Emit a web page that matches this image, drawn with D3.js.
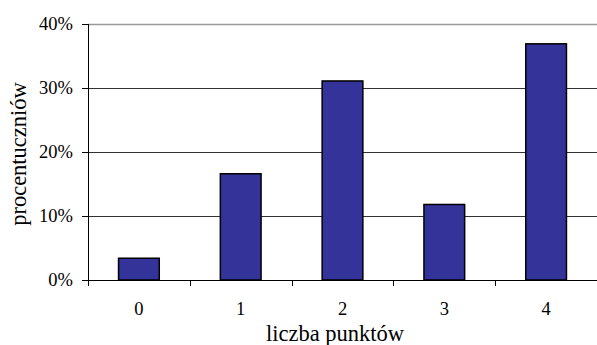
<!DOCTYPE html>
<html>
<head>
<meta charset="utf-8">
<script src="https://cdn.jsdelivr.net/npm/d3@7"></script>
<style>
  body { margin: 0; background: #fff; }
</style>
</head>
<body>
<div id="chart"></div>
<script>
const categories = ["0", "1", "2", "3", "4"];
const values = [0.034, 0.166, 0.311, 0.118, 0.369];
const yTicks = [0, 0.1, 0.2, 0.3, 0.4];

const W = 597, H = 345;
const margin = { top: 24, right: 0, bottom: 65, left: 88 };
const w = W - margin.left - margin.right;
const h = H - margin.top - margin.bottom;
const serif = "'Liberation Serif', 'DejaVu Serif', serif";

const svg = d3.select("#chart").append("svg")
    .attr("width", W)
    .attr("height", H)
    .style("font-family", serif);

const g = svg.append("g")
    .attr("transform", `translate(${margin.left},${margin.top})`);

const x = d3.scaleBand().domain(categories).range([0, w]).paddingInner(0.6).paddingOuter(0.3);
const xTick = d3.scaleBand().domain(categories).range([0, w]);
const y = d3.scaleLinear().domain([0, 0.4]).range([h, 0]);
const pct = d3.format(".0%");

// gridlines
g.selectAll(".grid")
    .data(yTicks.filter(d => d > 0))
    .enter()
    .append("line")
    .attr("x1", 0)
    .attr("x2", w)
    .attr("y1", d => Math.round(y(d)) + 0.5)
    .attr("y2", d => Math.round(y(d)) + 0.5)
    .style("stroke", d => d === 0.4 ? "#999" : "#333")
    .style("stroke-width", d => d === 0.4 ? 1.5 : 1);

// bars
g.selectAll(".bar")
    .data(values)
    .enter()
    .append("rect")
    .attr("x", (d, i) => x(categories[i]))
    .attr("y", d => y(d))
    .attr("width", x.bandwidth())
    .attr("height", d => h - y(d))
    .style("fill", "#333399")
    .style("stroke", "#000")
    .style("stroke-width", 1.5);

// y axis
const yAxis = g.append("g");
yAxis.append("line")
    .attr("x1", 0.5).attr("x2", 0.5)
    .attr("y1", 0).attr("y2", h + 6)
    .style("stroke", "#000");
yAxis.selectAll(".ytick")
    .data(yTicks)
    .enter()
    .append("line")
    .attr("x1", -6).attr("x2", 0)
    .attr("y1", d => Math.round(y(d)) + 0.5)
    .attr("y2", d => Math.round(y(d)) + 0.5)
    .style("stroke", "#000");
yAxis.selectAll(".ylabel")
    .data(yTicks)
    .enter()
    .append("text")
    .attr("x", -15)
    .attr("y", d => y(d))
    .attr("dy", "0.33em")
    .attr("text-anchor", "end")
    .style("font-family", serif)
    .style("font-size", "18.5px")
    .text(d => pct(d));

// x axis
const xAxis = g.append("g").attr("transform", `translate(0,${h})`);
xAxis.append("line")
    .attr("x1", -6).attr("x2", w)
    .attr("y1", 0.5).attr("y2", 0.5)
    .style("stroke", "#000");
xAxis.selectAll(".xtick")
    .data(categories.concat(["end"]))
    .enter()
    .append("line")
    .attr("x1", (d, i) => Math.round(i * xTick.step()) + 0.5)
    .attr("x2", (d, i) => Math.round(i * xTick.step()) + 0.5)
    .attr("y1", 0).attr("y2", 6)
    .style("stroke", "#000");
xAxis.selectAll(".xlabel")
    .data(categories)
    .enter()
    .append("text")
    .attr("x", d => xTick(d) + xTick.bandwidth() / 2)
    .attr("y", 35)
    .attr("text-anchor", "middle")
    .style("font-family", serif)
    .style("font-size", "18.5px")
    .text(d => d);

// axis titles
svg.append("text")
    .attr("x", 335)
    .attr("y", 341)
    .attr("text-anchor", "middle")
    .style("font-family", serif)
    .style("font-size", "22.5px")
    .text("liczba punktów");

svg.append("text")
    .attr("transform", `translate(26,154) rotate(-90)`)
    .attr("text-anchor", "middle")
    .style("font-family", serif)
    .style("font-size", "22.5px")
    .text("procentuczniów");
</script>
</body>
</html>
